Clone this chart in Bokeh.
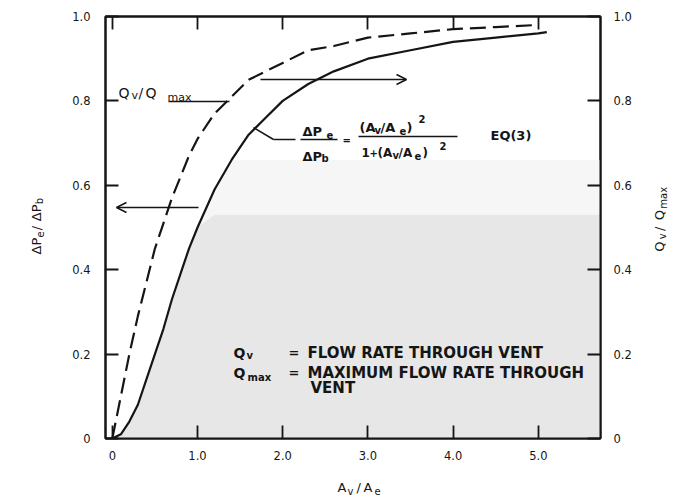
import math
import numpy as np
from bokeh.plotting import figure
from bokeh.layouts import column, row
from bokeh.models import (Label, Arrow, OpenHead, LinearAxis, Range1d, FixedTicker,
                          BoxAnnotation)
from bokeh.embed import file_html
from bokeh.resources import INLINE

# ---------------- data ----------------
av_ae = [0, 0.1, 0.2, 0.3, 0.4, 0.5, 0.6, 0.7, 0.8, 0.9, 1.0, 1.2, 1.4, 1.6,
         1.8, 2.0, 2.3, 2.6, 3.0, 3.5, 4.0, 4.5, 5.0, 5.1]
dpe_dpb = [0, 0.01, 0.04, 0.08, 0.14, 0.20, 0.26, 0.33, 0.39, 0.45, 0.50, 0.59,
           0.66, 0.72, 0.76, 0.80, 0.84, 0.87, 0.90, 0.92, 0.94, 0.95, 0.96, 0.963]
av_ae_q = [0, 0.1, 0.2, 0.3, 0.4, 0.5, 0.6, 0.7, 0.8, 0.9, 1.0, 1.2, 1.4, 1.6,
           1.8, 2.0, 2.3, 2.6, 3.0, 3.5, 4.0, 4.5, 5.0]
qv_qmax = [0, 0.10, 0.20, 0.29, 0.37, 0.45, 0.51, 0.57, 0.62, 0.67, 0.71, 0.77,
           0.81, 0.85, 0.87, 0.89, 0.92, 0.93, 0.95, 0.96, 0.97, 0.975, 0.98]

x_ticks = [0, 1, 2, 3, 4, 5]
x_tick_labels = ["0", "1.0", "2.0", "3.0", "4.0", "5.0"]
y_ticks = [0, 0.2, 0.4, 0.6, 0.8, 1.0]
y_tick_labels = ["0", "0.2", "0.4", "0.6", "0.8", "1.0"]

# ---------------- layout (pixels in the 687x499 page) ----------------
W, H = 687, 499
LW, RW, BH = 60, 47, 29            # side panels for axis titles
MW, MH = W - LW - RW, H - BH       # main figure
FL, FR, FT, FB = 105, 600, 16, 438 # frame edges (page pixels)
X0, X1 = -0.08, 5.73
Y0, Y1 = 0.0, 1.0

def dx(px):
    return X0 + (px - FL) / (FR - FL) * (X1 - X0)

def dy(py):
    return Y0 + (FB - py) / (FB - FT) * (Y1 - Y0)

FONT = "DejaVu Sans"
INK = "#151515"

p = figure(width=MW, height=MH, x_range=Range1d(X0, X1), y_range=Range1d(Y0, Y1),
           output_backend="svg", toolbar_location=None,
           min_border_left=FL - LW, min_border_right=(W - RW) - FR,
           min_border_top=FT, min_border_bottom=MH - FB,
           x_axis_location=None, y_axis_location=None)
p.grid.visible = False
p.background_fill_color = "white"
p.border_fill_color = "white"
p.outline_line_color = INK
p.outline_line_width = 2
p.extra_y_ranges = {"q": Range1d(Y0, Y1)}

def style_axis(ax, ticks, labels, standoff, show_labels=True):
    ax.ticker = FixedTicker(ticks=ticks)
    ax.major_label_overrides = dict(zip(ticks, labels))
    ax.minor_tick_line_color = None
    ax.major_tick_in = 13
    ax.major_tick_out = 0
    ax.major_tick_line_width = 1.8
    ax.major_tick_line_color = INK
    ax.axis_line_color = INK
    ax.axis_line_width = 2
    ax.major_label_standoff = standoff
    ax.major_label_text_font = FONT
    ax.major_label_text_font_size = "11.5px"
    ax.major_label_text_color = INK if show_labels else None

left = LinearAxis()
style_axis(left, y_ticks, y_tick_labels, 15)
p.add_layout(left, "left")
right = LinearAxis(y_range_name="q")
style_axis(right, y_ticks, y_tick_labels, 13)
p.add_layout(right, "right")
bottom = LinearAxis()
style_axis(bottom, x_ticks, x_tick_labels, 12)
p.add_layout(bottom, "below")
top = LinearAxis()
style_axis(top, x_ticks, x_tick_labels, 0, show_labels=False)
p.add_layout(top, "above")

# faint scan shading under/right of the pressure curve
solid = np.array(dpe_dpb)
CAP1, CAP2 = 0.53, 0.66
SHADE_LIGHT, SHADE = "#f6f6f6", "#e7e7e7"
p.add_layout(BoxAnnotation(left=av_ae[-3], bottom=CAP1, top=CAP2,
                           fill_color=SHADE_LIGHT, fill_alpha=1, line_color=None,
                           level="underlay"))
p.add_layout(BoxAnnotation(left=av_ae[-3], bottom=Y0, top=CAP1,
                           fill_color=SHADE, fill_alpha=1, line_color=None,
                           level="underlay"))
p.varea(x=av_ae, y1=np.minimum(solid, CAP1), y2=np.minimum(solid, CAP2),
        fill_color=SHADE_LIGHT)
p.varea(x=av_ae, y1=0, y2=np.minimum(solid, CAP1), fill_color=SHADE)

# curves
p.line(av_ae, dpe_dpb, line_color=INK, line_width=2.2)
p.line(av_ae_q, qv_qmax, line_color=INK, line_width=2.2, line_dash="16 7",
       y_range_name="q")

# ---------------- annotation lines and arrows ----------------
def seg(x1, y1, x2, y2, w=1.5, head=False):
    end = OpenHead(size=10, line_width=1.5, line_color=INK) if head else None
    p.add_layout(Arrow(x_start=dx(x1), y_start=dy(y1), x_end=dx(x2), y_end=dy(y2),
                       line_color=INK, line_width=w, end=end))

seg(260, 79, 406, 79, head=True)          # -> right axis
seg(198, 207, 116, 207, head=True)        # <- left axis
seg(168, 101, 229, 101)                   # Qv/Qmax leader
seg(253, 127, 273, 139)                   # equation leader
seg(273, 139, 295, 139)
seg(300, 139, 337, 139)                   # fraction bars
seg(358, 136, 457, 136)

# ---------------- texts inside the frame ----------------
def lab(txt, px, py, size=12, bold=False):
    p.add_layout(Label(x=dx(px), y=dy(py), text=txt, text_font=FONT,
                       text_font_size=f"{size}px",
                       text_font_style="bold" if bold else "normal",
                       text_color=INK, text_align="left", text_baseline="middle"))

# Qv/Qmax label by dashed curve
lab("Q", 118, 92, 14)
lab("v", 131, 95, 11)
lab("/", 138, 92, 14)
lab("Q", 145, 92, 14)
lab("max", 167, 97, 11)

# equation
lab("ΔP", 302, 131, 13, True)
lab("e", 326, 134, 10, True)
lab("ΔP", 302, 156, 13, True)
lab("b", 321, 158, 10, True)
lab("=", 342, 140, 10, True)
for t, px, py, s in [("(A", 359, 127, 13), ("v", 374, 130, 10), ("/A", 380, 127, 13),
                     ("e", 399, 130, 10), (")", 406, 127, 13), ("2", 418, 118, 10),
                     ("1", 361, 152, 12), ("+", 369, 152, 10), ("(A", 377, 152, 12),
                     ("v", 392, 155, 10), ("/A", 398, 152, 12), ("e", 414, 155, 10),
                     (")", 422, 152, 12), ("2", 439, 145, 10)]:
    lab(t, px, py, s, True)
lab("EQ(3)", 490, 135, 13, True)

# legend text
lab("Q", 233, 352, 14, True)
lab("v", 246, 355, 10, True)
lab("=", 288, 352, 13, True)
lab("FLOW RATE THROUGH VENT", 307, 352, 15, True)
lab("Q", 233, 372, 14, True)
lab("max", 247, 377, 10, True)
lab("=", 288, 372, 13, True)
lab("MAXIMUM FLOW RATE THROUGH", 307, 372, 15, True)
lab("VENT", 310, 387, 15, True)

# ---------------- axis-title panels ----------------
def panel(w, h):
    f = figure(width=w, height=h, x_range=Range1d(0, w), y_range=Range1d(0, h),
               min_border=0, toolbar_location=None, output_backend="svg",
               x_axis_location=None, y_axis_location=None)
    f.grid.visible = False
    f.outline_line_color = None
    f.background_fill_color = "white"
    f.border_fill_color = "white"
    return f

def ptxt(f, ox, oy, txt, px, py, size=12, angle=0.0):
    f.add_layout(Label(x=px - ox, y=f.height - (py - oy), text=txt, text_font=FONT,
                       text_font_size=f"{size}px", text_color=INK,
                       text_align="left", text_baseline="middle", angle=angle))

up = math.pi / 2
lf = panel(LW, MH)
ptxt(lf, 0, 0, "ΔP", 36, 265, 13, up)
ptxt(lf, 0, 0, "e", 39, 246, 10, up)
ptxt(lf, 0, 0, "/", 36, 238, 13, up)
ptxt(lf, 0, 0, "ΔP", 36, 228, 13, up)
ptxt(lf, 0, 0, "b", 39, 209, 10, up)

rf = panel(RW, MH)
RX = W - RW
ptxt(rf, RX, 0, "Q", 659, 262, 13, up)
ptxt(rf, RX, 0, "v", 662, 248, 10, up)
ptxt(rf, RX, 0, "/", 659, 239, 13, up)
ptxt(rf, RX, 0, "Q", 659, 227, 13, up)
ptxt(rf, RX, 0, "max", 663, 214, 10, up)

bf = panel(W, BH)
ptxt(bf, 0, MH, "A", 337, 487, 13)
ptxt(bf, 0, MH, "v", 347, 491, 10)
ptxt(bf, 0, MH, "/", 356, 487, 13)
ptxt(bf, 0, MH, "A", 363, 487, 13)
ptxt(bf, 0, MH, "e", 374, 490, 10)

page = column(row(lf, p, rf, spacing=0), bf, spacing=0)

open("out.html", "w").write(file_html(page, INLINE))
